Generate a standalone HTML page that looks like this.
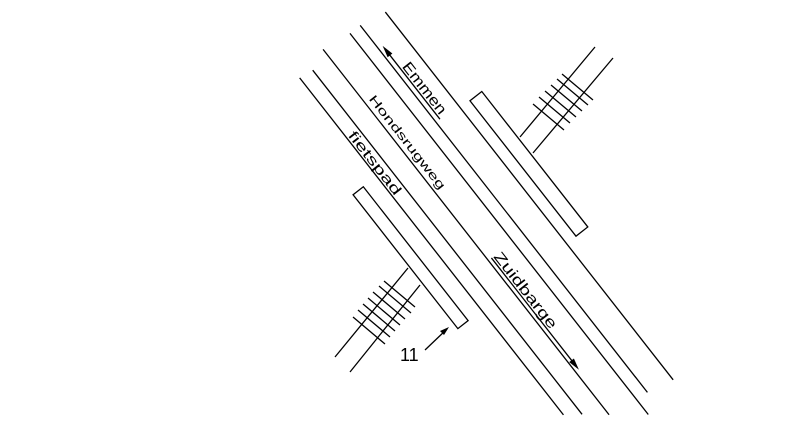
<!DOCTYPE html>
<html><head><style>html,body{margin:0;padding:0;background:#fff;overflow:hidden;width:800px;height:429px}svg{display:block;overflow:hidden}</style></head>
<body>
<svg width="800" height="429" viewBox="0 0 800 429" xmlns="http://www.w3.org/2000/svg" overflow="hidden">
<defs><clipPath id="c"><rect width="800" height="429"/></clipPath></defs>
<g clip-path="url(#c)">
<rect width="800" height="429" fill="#fff"/>
<g stroke="#000" stroke-width="1.3" fill="none">
<line x1="520" y1="137" x2="595" y2="47"/>
<line x1="533" y1="153" x2="613" y2="58"/>
<line x1="533" y1="104" x2="564" y2="130"/>
<line x1="539" y1="97" x2="570" y2="123"/>
<line x1="545" y1="91" x2="576" y2="117"/>
<line x1="551" y1="85" x2="582" y2="111"/>
<line x1="557" y1="79" x2="588" y2="105"/>
<line x1="562" y1="74" x2="593" y2="100"/>
<line x1="408" y1="268" x2="335" y2="357"/>
<line x1="420" y1="285" x2="350" y2="372"/>
<line x1="353" y1="317" x2="385" y2="344"/>
<line x1="358" y1="310" x2="390" y2="337"/>
<line x1="363" y1="304" x2="395" y2="331"/>
<line x1="368" y1="298" x2="400" y2="325"/>
<line x1="373" y1="292" x2="405" y2="319"/>
<line x1="379" y1="286" x2="411" y2="313"/>
<line x1="384" y1="281" x2="415" y2="307"/>
<line x1="425" y1="350" x2="447" y2="329"/>
</g>
<polygon points="449,327 440,331 444,335" fill="#000"/>
<circle cx="458" cy="321" r="2" fill="#000"/>
<text x="400" y="361" font-family="Liberation Sans, sans-serif" font-size="18">11</text>
<g transform="rotate(51.95)" stroke="#000" stroke-width="1.3" fill="none">
<line x1="247" y1="-296" x2="714" y2="-296"/>
<line x1="242" y1="-268" x2="708" y2="-268"/>
<line x1="242" y1="-255" x2="726" y2="-255"/>
<line x1="238" y1="-224" x2="702" y2="-224"/>
<line x1="248" y1="-203" x2="685" y2="-203"/>
<line x1="246" y1="-188" x2="674" y2="-188"/>
<rect x="369" y="-323" width="172" height="15" fill="#fff"/>
<rect x="371" y="-171" width="170" height="13" fill="#fff"/>
<line x1="276" y1="-273" x2="365" y2="-273"/>
<line x1="506" y1="-228" x2="640" y2="-228"/>
<polygon points="272,-273 284,-276 284,-270" fill="#000" stroke="none"/>
<polygon points="648,-228 636,-231 636,-225" fill="#000" stroke="none"/>
<g stroke="none" fill="#000" font-family="Liberation Sans, sans-serif">
<text x="300" y="-275" font-size="15" textLength="62" lengthAdjust="spacingAndGlyphs">Emmen</text>
<text x="305" y="-229" font-size="12" textLength="116" lengthAdjust="spacingAndGlyphs">Hondsrugweg</text>
<text x="321" y="-190" font-size="14" textLength="77" lengthAdjust="spacingAndGlyphs">fietspad</text>
<text x="506" y="-230" font-size="15" textLength="93" lengthAdjust="spacingAndGlyphs">Zuidbarge</text>
</g>
</g>
</g>
</svg>
</body></html>
